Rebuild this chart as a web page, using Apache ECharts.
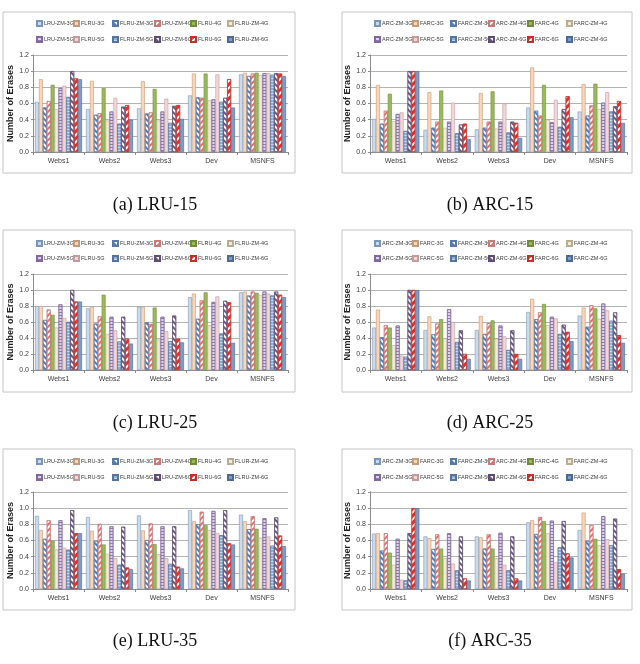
<!DOCTYPE html>
<html>
<head>
<meta charset="utf-8">
<script src="https://cdn.jsdelivr.net/npm/echarts@6/dist/echarts.min.js"></script>
<style>
html, body { margin: 0; padding: 0; background: #fff; }
#main { width: 640px; height: 664px; }
</style>
</head>
<body>
<div id="main"></div>
<script>
var categories = ['Webs1', 'Webs2', 'Webs3', 'Dev', 'MSNFS'];
var yTicks = [0, 0.2, 0.4, 0.6, 0.8, 1.0, 1.2];

var lruNames = ['LRU-ZM-3G', 'FLRU-3G', 'FLRU-ZM-3G', 'LRU-ZM-4G', 'FLRU-4G', 'FLRU-ZM-4G',
                'LRU-ZM-5G', 'FLRU-5G', 'FLRU-ZM-5G', 'LRU-ZM-6G', 'FLRU-6G', 'FLRU-ZM-6G'];
// the 35 panel has a typo in its legend
var lru35Names = ['LRU-ZM-3G', 'FLRU-3G', 'FLRU-ZM-3G', 'LRU-ZM-4G', 'FLRU-4G', 'FLUR-ZM-4G',
                  'LRU-ZM-5G', 'FLRU-5G', 'FLRU-ZM-5G', 'LRU-ZM-6G', 'FLRU-6G', 'FLRU-ZM-6G'];
var arcNames = ['ARC-ZM-3G', 'FARC-3G', 'FARC-ZM-3G', 'ARC-ZM-4G', 'FARC-4G', 'FARC-ZM-4G',
                'ARC-ZM-5G', 'FARC-5G', 'FARC-ZM-5G', 'ARC-ZM-6G', 'FARC-6G', 'FARC-ZM-6G'];

// one row per category (Webs1, Webs2, Webs3, Dev, MSNFS), 12 values in legend order
var lru15 = [
  [0.62, 0.90, 0.55, 0.63, 0.83, 0.53, 0.79, 0.82, 0.68, 1.00, 0.91, 0.90],
  [0.53, 0.88, 0.46, 0.48, 0.79, 0.39, 0.50, 0.67, 0.35, 0.56, 0.58, 0.40],
  [0.54, 0.875, 0.475, 0.49, 0.78, 0.39, 0.50, 0.66, 0.36, 0.57, 0.58, 0.41],
  [0.70, 0.97, 0.675, 0.67, 0.97, 0.64, 0.65, 0.96, 0.62, 0.67, 0.90, 0.55],
  [0.96, 0.98, 0.94, 0.97, 0.98, 0.95, 0.975, 0.975, 0.955, 0.975, 0.97, 0.94]
];
var arc15 = [
  [0.41, 0.83, 0.35, 0.51, 0.72, 0.38, 0.47, 0.49, 0.26, 1.00, 1.00, 1.00],
  [0.275, 0.74, 0.30, 0.375, 0.76, 0.30, 0.375, 0.61, 0.23, 0.34, 0.35, 0.16],
  [0.28, 0.73, 0.30, 0.375, 0.75, 0.29, 0.375, 0.60, 0.24, 0.375, 0.36, 0.175],
  [0.55, 1.045, 0.51, 0.45, 0.83, 0.40, 0.37, 0.645, 0.31, 0.53, 0.69, 0.43],
  [0.50, 0.84, 0.45, 0.575, 0.845, 0.53, 0.61, 0.74, 0.50, 0.565, 0.63, 0.36]
];
var lru25 = [
  [0.80, 0.80, 0.625, 0.755, 0.69, 0.53, 0.82, 0.65, 0.60, 1.00, 0.855, 0.855],
  [0.77, 0.79, 0.58, 0.67, 0.94, 0.45, 0.665, 0.495, 0.355, 0.665, 0.39, 0.33],
  [0.79, 0.79, 0.595, 0.575, 0.78, 0.38, 0.665, 0.485, 0.36, 0.68, 0.39, 0.345],
  [0.91, 0.955, 0.64, 0.87, 0.97, 0.56, 0.85, 0.92, 0.455, 0.865, 0.845, 0.34],
  [0.97, 0.98, 0.93, 0.98, 0.965, 0.94, 0.98, 0.955, 0.93, 0.98, 0.94, 0.91]
];
var arc25 = [
  [0.53, 0.755, 0.41, 0.56, 0.53, 0.31, 0.555, 0.18, 0.165, 1.00, 1.00, 1.00],
  [0.50, 0.67, 0.445, 0.58, 0.635, 0.395, 0.76, 0.60, 0.35, 0.495, 0.20, 0.14],
  [0.50, 0.675, 0.45, 0.585, 0.62, 0.39, 0.555, 0.42, 0.25, 0.495, 0.20, 0.14],
  [0.725, 0.89, 0.635, 0.72, 0.825, 0.56, 0.665, 0.645, 0.45, 0.565, 0.475, 0.36],
  [0.68, 0.78, 0.54, 0.81, 0.77, 0.64, 0.83, 0.745, 0.615, 0.72, 0.435, 0.34]
];
var lru35 = [
  [0.905, 0.73, 0.62, 0.85, 0.595, 0.49, 0.85, 0.51, 0.485, 0.975, 0.69, 0.69],
  [0.89, 0.72, 0.595, 0.805, 0.55, 0.435, 0.775, 0.38, 0.30, 0.77, 0.265, 0.245],
  [0.91, 0.725, 0.605, 0.81, 0.555, 0.43, 0.775, 0.38, 0.31, 0.775, 0.275, 0.255],
  [0.975, 0.84, 0.80, 0.955, 0.79, 0.73, 0.965, 0.695, 0.665, 0.975, 0.565, 0.55],
  [0.92, 0.84, 0.74, 0.90, 0.745, 0.635, 0.875, 0.65, 0.535, 0.885, 0.66, 0.53]
];
var arc35 = [
  [0.685, 0.69, 0.475, 0.69, 0.45, 0.30, 0.62, 0.115, 0.105, 0.69, 1.00, 1.00],
  [0.65, 0.63, 0.495, 0.675, 0.50, 0.38, 0.69, 0.315, 0.23, 0.65, 0.13, 0.105],
  [0.65, 0.64, 0.50, 0.675, 0.50, 0.38, 0.695, 0.30, 0.23, 0.65, 0.13, 0.105],
  [0.825, 0.85, 0.68, 0.89, 0.84, 0.69, 0.845, 0.33, 0.515, 0.84, 0.44, 0.39],
  [0.73, 0.945, 0.595, 0.79, 0.62, 0.54, 0.90, 0.615, 0.54, 0.87, 0.245, 0.19]
];

// fill / pattern for each of the 12 series (same in every panel)
var D = Math.PI / 4;
var looks = [
  { color: '#c9dbf0', border: '#7d95b5' },
  { color: '#fbd6b6', border: '#c29a7c' },
  { color: '#ffffff', border: '#5779a8', decal: { symbol: 'rect', symbolSize: 1, dashArrayX: [1, 0], dashArrayY: [1.2, 2], rotation: D, color: '#4f7cb8' } },
  { color: '#ffffff', border: '#c77b79', decal: { symbol: 'rect', symbolSize: 1, dashArrayX: [1, 0], dashArrayY: [1.2, 2], rotation: -D, color: '#e0706c' } },
  { color: '#9bbb59', border: '#6f8a3c' },
  { color: '#f2ebd8', border: '#b8ad92' },
  { color: '#ddd3e8', border: '#7f6a9c', decal: { symbol: 'rect', symbolSize: 1, dashArrayX: [1, 0], dashArrayY: [1, 1.4], rotation: 0, color: '#8f79ae' } },
  { color: '#f2d7d8', border: '#c49a9c' },
  { color: '#92b1d8', border: '#55739c', decal: { symbol: 'rect', symbolSize: 1, dashArrayX: [1, 0], dashArrayY: [1, 1.4], rotation: 0, color: '#c8d9ee' } },
  { color: '#ffffff', border: '#5d4d70', decal: { symbol: 'rect', symbolSize: 1, dashArrayX: [1, 0], dashArrayY: [2, 2], rotation: D, color: '#6a5882' } },
  { color: '#ffffff', border: '#c0302c', decal: { symbol: 'rect', symbolSize: 1, dashArrayX: [1, 0], dashArrayY: [2.2, 2], rotation: -D, color: '#e3302b' } },
  { color: '#7e9cc7', border: '#4f6a91' }
];

var panels = [
  { data: lru15, names: lruNames, caption: '(a) LRU-15', col: 0, row: 0 },
  { data: arc15, names: arcNames, caption: '(b) ARC-15', col: 1, row: 0 },
  { data: lru25, names: lruNames, caption: '(c) LRU-25', col: 0, row: 1 },
  { data: arc25, names: arcNames, caption: '(d) ARC-25', col: 1, row: 1 },
  { data: lru35, names: lru35Names, caption: '(e) LRU-35', col: 0, row: 2 },
  { data: arc35, names: arcNames, caption: '(f) ARC-35', col: 1, row: 2 }
];

var cols = [
  { frame: 3, frameW: 292, grid: 33, gridW: 255, legend: 36, legendCols: [0, 37, 76, 118, 154, 191], cap: 155 },
  { frame: 342, frameW: 290, grid: 370, gridW: 257, legend: 374, legendCols: [0, 38, 76, 114, 153, 192], cap: 490 }
];
var rows = [
  { frame: 12, frameH: 161, grid: 55, gridH: 97, leg1: 23, leg2: 39, cap: 205 },
  { frame: 230, frameH: 162, grid: 274, gridH: 96, leg1: 243, leg2: 258, cap: 423 },
  { frame: 449, frameH: 161, grid: 492, gridH: 97, leg1: 461, leg2: 477, cap: 641 }
];

var grids = [], xAxes = [], yAxes = [], series = [], legends = [], graphics = [];
var axisGray = '#8c8c8c';
var txt = '#404040';

panels.forEach(function (p, k) {
  var c = cols[p.col], r = rows[p.row];
  grids.push({ left: c.grid, top: r.grid, width: c.gridW, height: r.gridH });
  xAxes.push({
    type: 'category', gridIndex: k, data: categories,
    axisLine: { lineStyle: { color: axisGray } },
    axisTick: { show: true, length: 3, lineStyle: { color: axisGray } },
    axisLabel: { fontSize: 7, color: txt, margin: 6, fontFamily: 'Liberation Sans' }
  });
  yAxes.push({
    type: 'value', gridIndex: k, min: yTicks[0], max: yTicks[yTicks.length - 1], interval: 0.2,
    name: 'Number of Erases', nameLocation: 'middle', nameGap: 14,
    nameTextStyle: { fontSize: 9, fontWeight: 'bold', color: '#222', fontFamily: 'Liberation Sans' },
    axisLine: { show: true, lineStyle: { color: axisGray } },
    axisTick: { show: true, length: 2, lineStyle: { color: axisGray } },
    splitLine: { lineStyle: { color: '#b4b4b4' } },
    axisLabel: { fontSize: 7, color: txt, margin: 4, fontFamily: 'Liberation Sans',
      formatter: function (v) { return v.toFixed(1); } }
  });
  p.names.forEach(function (name, i) {
    var lk = looks[i];
    var st = { color: lk.color, borderColor: lk.border, borderWidth: 0.6 };
    if (lk.decal) st.decal = lk.decal;
    series.push({
      type: 'bar', name: name, xAxisIndex: k, yAxisIndex: k,
      barGap: '0%', barCategoryGap: '8%',
      itemStyle: st,
      data: p.data.map(function (row) { return row[i]; })
    });
    // one legend per entry so the two rows keep fixed columns
    legends.push({
      data: [name], icon: 'rect', orient: 'horizontal',
      left: c.legend + c.legendCols[i % 6],
      top: (i < 6 ? r.leg1 : r.leg2) - 3,
      itemWidth: 5, itemHeight: 5, padding: 0,
      textStyle: { fontSize: 5.5, color: txt, padding: [0, 0, 0, -3], fontFamily: 'Liberation Sans' }
    });
  });
  graphics.push({
    type: 'rect', silent: true,
    shape: { x: c.frame, y: r.frame, width: c.frameW, height: r.frameH },
    style: { fill: 'none', stroke: '#c4c4c4', lineWidth: 1 }
  });
  graphics.push({
    type: 'text', x: c.cap, y: r.cap,
    style: { text: p.caption, align: 'center', verticalAlign: 'middle',
      font: '18px "Liberation Serif"', fill: '#111' }
  });
});

var myChart = echarts.init(document.getElementById('main'));
myChart.setOption({
  animation: false,
  backgroundColor: '#fff',
  grid: grids,
  xAxis: xAxes,
  yAxis: yAxes,
  legend: legends,
  graphic: graphics,
  series: series
});
</script>
</body>
</html>
